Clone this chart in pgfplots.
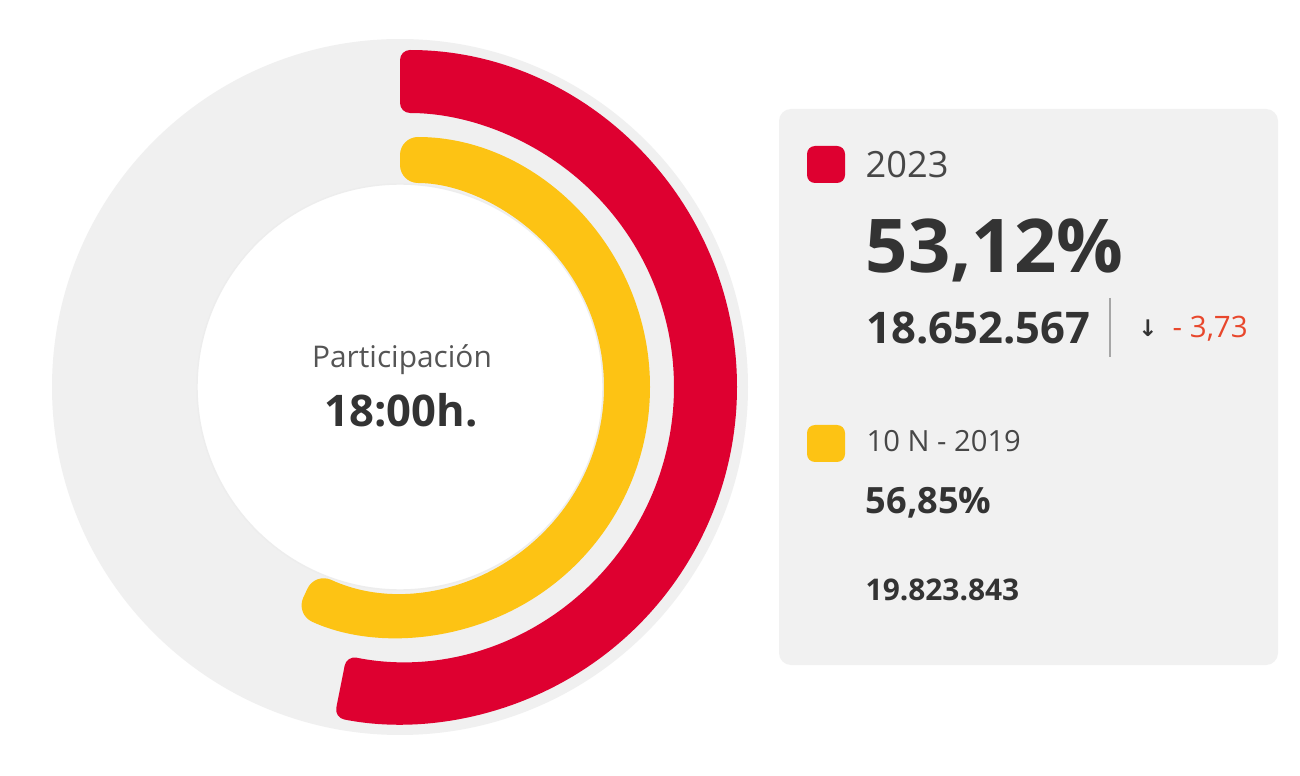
\documentclass[border=0pt]{standalone}
\usepackage{pgfplots}
\pgfplotsset{compat=1.18}
\usepackage{pgfplotstable}
\usepackage{fontspec}
\setmainfont{Open Sans}
\newfontfamily\arrowfont{DejaVu Sans}
\definecolor{vred}{HTML}{DE0030}
\definecolor{vyellow}{HTML}{FDC314}
\definecolor{ring}{HTML}{F0F0F0}
\definecolor{boxg}{HTML}{F1F1F1}
\definecolor{txtdark}{HTML}{333333}
\definecolor{txtgray}{HTML}{474747}
\definecolor{txtmid}{HTML}{555555}
\definecolor{deltared}{HTML}{E8472C}

% turnout (%) at 18:00h
\pgfplotstableread{
serie value
2023  53.12
2019  56.85
}\arcdata
\pgfplotstablegetelem{0}{value}\of\arcdata \let\vA\pgfplotsretval
\pgfplotstablegetelem{1}{value}\of\arcdata \let\vB\pgfplotsretval
\pgfmathsetmacro\endA{90-3.6*\vA}
\pgfmathsetmacro\endB{90-3.6*\vB}

% #1 colour, #2 end angle, #3 inner r (px), #4 outer r (px), #5 corner (px)
\newcommand\ringarc[5]{%
  \fill[#1, rounded corners=#5*0.1mm]
    ([shift={(90:#4*0.1mm)}]C) arc[start angle=90, end angle=#2, radius=#4*0.1mm]
    -- ([shift={(#2:#3*0.1mm)}]C) arc[start angle=#2, end angle=90, radius=#3*0.1mm]
    -- cycle;}

\begin{document}
\begin{tikzpicture}
\begin{axis}[x=0.1mm, y=0.1mm, xmin=0, xmax=1300, ymin=0, ymax=776,
  y dir=reverse, hide axis, clip=false, scale only axis]
  \fill[white] (axis cs:0,0) rectangle (axis cs:1300,776);
  \coordinate (C) at (axis cs:400,387);
  % background ring
  \fill[ring] (C) circle[radius=34.8mm];
  \fill[white] (C) circle[radius=20.3mm];
  \draw[color=black!7, line width=0.4pt] (C) circle[radius=20.3mm];
  % arcs
  \ringarc{vred}{\endA}{274}{337}{10}
  \ringarc{vyellow}{\endB}{204}{250}{18}
  % centre text
  \node[anchor=base, inner sep=0, text=txtmid, font=\fontsize{8.5}{10}\selectfont] at (axis cs:402,368) {Participación};
  \node[anchor=base, inner sep=0, text=txtdark, font=\fontsize{12.4}{14}\selectfont\bfseries] at (axis cs:401,426) {18:00h.};
  % info box
  \fill[boxg, rounded corners=1.2mm] (axis cs:779,109) rectangle (axis cs:1278,665);
  \fill[vred, rounded corners=0.8mm] (axis cs:807,146) rectangle (axis cs:845,183);
  \node[anchor=base west, inner sep=0, text=txtgray, font=\fontsize{10.3}{12}\selectfont] at (axis cs:865,178) {2023};
  \node[anchor=base west, inner sep=0, text=txtdark, font=\fontsize{21.1}{25}\selectfont\bfseries] at (axis cs:865,273) {53,12\%};
  \node[anchor=base west, inner sep=0, text=txtdark, font=\fontsize{12.4}{15}\selectfont\bfseries] at (axis cs:866,344) {18.652.567};
  \draw[color=black!35, line width=0.6pt] (axis cs:1110,298) -- (axis cs:1110,357);
  \node[anchor=base, inner sep=0, text=txtdark, font=\arrowfont\bfseries\fontsize{6.5}{7}\selectfont] at (axis cs:1148,337) {↓};
  \node[anchor=base west, inner sep=0, text=deltared, font=\fontsize{8.4}{10}\selectfont] at (axis cs:1172,338) {- 3,73};
  \fill[vyellow, rounded corners=0.8mm] (axis cs:807,425) rectangle (axis cs:845,462);
  \node[anchor=base west, inner sep=0, text=txtgray, font=\fontsize{8.3}{10}\selectfont] at (axis cs:866,451) {10 N - 2019};
  \node[anchor=base west, inner sep=0, text=txtdark, font=\fontsize{10.3}{12}\selectfont\bfseries] at (axis cs:865,514) {56,85\%};
  \node[anchor=base west, inner sep=0, text=txtdark, font=\fontsize{8.5}{10}\selectfont\bfseries] at (axis cs:865,601) {19.823.843};
\end{axis}
\end{tikzpicture}
\end{document}
